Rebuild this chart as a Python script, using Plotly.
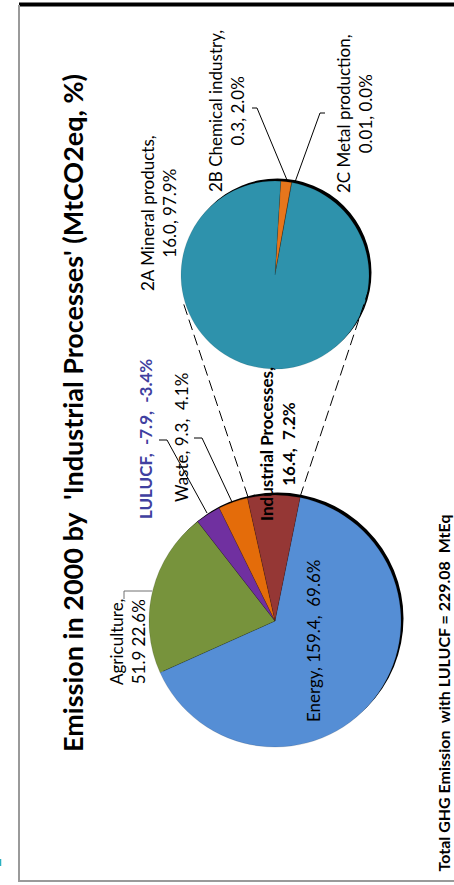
import plotly.graph_objects as go

# ---- data -------------------------------------------------------------
sectors = ["Energy", "Agriculture", "LULUCF", "Waste", "Industrial Processes"]
sector_values = [159.4, 51.9, -7.9, 9.3, 16.4]
sector_pct = [69.6, 22.6, -3.4, 4.1, 7.2]
sector_colors = ["#558ED5", "#77933C", "#7030A0", "#E46C0A", "#953735"]

subcats = ["2B Chemical industry", "2C Metal production", "2A Mineral products"]
subcat_values = [0.3, 0.01, 16.0]
subcat_value_text = ["0.3", "0.01", "16.0"]
subcat_pct = [2.0, 0.0, 97.9]
subcat_colors = ["#E6761C", "#E46C0A", "#2E92AC"]

total_with_lulucf = 229.08
title_text = "Emission in 2000 by  'Industrial Processes' (MtCO2eq, %)"

W, H = 454, 885
FONT = "Lato"


def px(x):
    return x / W


def py(y):
    return 1 - y / H


def domain(cx, cy, r):
    return dict(x=[px(cx - r), px(cx + r)], y=[py(cy + r), py(cy - r)])


fig = go.Figure()

# main pie (absolute values so the sink still gets a slice)
fig.add_trace(go.Pie(
    labels=sectors,
    values=[abs(v) for v in sector_values],
    marker=dict(colors=sector_colors, line=dict(color="rgba(0,0,0,0.25)", width=0.5)),
    sort=False, direction="clockwise", rotation=11.5,
    textinfo="none", hoverinfo="skip", showlegend=False,
    domain=domain(275, 621, 126),
))

# breakdown pie of industrial processes
fig.add_trace(go.Pie(
    labels=subcats,
    values=subcat_values,
    marker=dict(colors=subcat_colors, line=dict(color="rgba(0,0,0,0.2)", width=0.5)),
    sort=False, direction="clockwise", rotation=3.5,
    textinfo="none", hoverinfo="skip", showlegend=False,
    domain=domain(275, 275, 94),
))

shapes = []


def line(pts, color="black", width=1, dash=None):
    d = "M " + " L ".join(f"{px(x)},{py(y)}" for x, y in pts)
    shapes.append(dict(type="path", path=d, xref="paper", yref="paper",
                       line=dict(color=color, width=width, dash=dash)))


# drop shadows behind the pies
for cx, cy, r in [(275, 621, 126), (275, 275, 94)]:
    shapes.append(dict(type="circle", xref="paper", yref="paper", layer="below",
                       x0=px(cx - r + 2.5), x1=px(cx + r + 2.5),
                       y0=py(cy + r - 2.5), y1=py(cy - r - 2.5),
                       fillcolor="black", line=dict(width=0)))

# frame
line([(19, 4.5), (W, 4.5)], width=4)
line([(19, 5), (19, 881)], color="#9A9A9A", width=2)
line([(18, 881), (W, 881)], color="#9A9A9A", width=2)
line([(0.5, 859), (0.5, 866)], color="#2BB0C0", width=1.5)

# connectors between the two pies
line([(248, 497), (183, 302)], dash="11px,5px")
line([(300, 497), (368, 292)], dash="11px,5px")

# leader lines
line([(124, 599), (124, 591), (152, 591)], color="#707070")
line([(194, 438), (202, 438), (232, 502)])
line([(159, 440), (167, 440), (207, 513)])
line([(252, 108), (257, 108), (287, 180)])
line([(325, 113), (320, 113), (295, 182)])

annotations = []


def label(text, x, y, size=17, bold=False, color="black", xanchor="center", yanchor="middle"):
    if bold:
        text = f"<b>{text}</b>"
    annotations.append(dict(text=text, x=px(x), y=py(y), xref="paper", yref="paper",
                            xanchor=xanchor, yanchor=yanchor, showarrow=False,
                            textangle=-90, align="center",
                            font=dict(family=FONT, size=size, color=color)))


label(title_text, 72, 413, size=27, bold=True)

e, a, lu, w, ip = range(5)
label(f"{sectors[e]}, {sector_values[e]:.1f},  {sector_pct[e]:.1f}%", 313, 641)
label(f"{sectors[a]},<br>{sector_values[a]:.1f} {sector_pct[a]:.1f}%", 127, 642)
label(f"{sectors[lu]},  {sector_values[lu]:.1f},  {sector_pct[lu]:.1f}%", 145, 439,
      bold=True, color="#4040A0")
label(f"{sectors[w]}, {sector_values[w]:.1f},  {sector_pct[w]:.1f}%", 181, 438)
label(f"{sectors[ip]},<br>{sector_values[ip]:.1f},  {sector_pct[ip]:.1f}%", 277, 444, bold=True)

label(f"{subcats[2]},<br>{subcat_value_text[2]}, {subcat_pct[2]:.1f}%", 159, 213)
label(f"{subcats[0]},<br>{subcat_value_text[0]}, {subcat_pct[0]:.1f}%", 226, 111)
label(f"{subcats[1]},<br>{subcat_value_text[1]}, {subcat_pct[1]:.1f}%", 355, 114)

label(f"Total GHG Emission  with LULUCF = {total_with_lulucf:.2f}  MtEq", 443, 513,
      size=16, bold=True, yanchor="top")

fig.update_layout(
    width=W, height=H,
    margin=dict(l=0, r=0, t=0, b=0),
    paper_bgcolor="white", plot_bgcolor="white",
    shapes=shapes, annotations=annotations,
    showlegend=False,
)

fig.write_html("out.html")
